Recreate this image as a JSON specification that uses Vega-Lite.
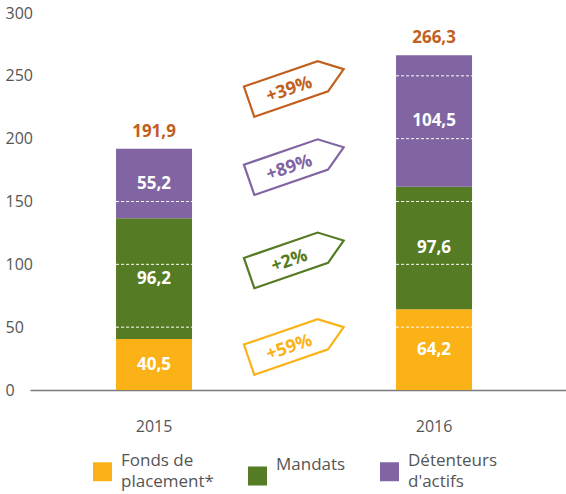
{
  "$schema": "https://vega.github.io/schema/vega-lite/v6.json",
  "width": 536,
  "height": 377,
  "autosize": {"type": "none"},
  "padding": {"left": 30, "top": 13, "right": 0, "bottom": 104},
  "config": {
    "view": {"stroke": null},
    "font": "Open Sans",
    "locale": {"number": {"decimal": ",", "thousands": " ", "grouping": [3], "currency": ["", " €"]}},
    "style": {"guide-label": {"lineHeight": 21}},
    "axisX": {
      "labelAngle": 0,
      "ticks": false,
      "grid": false,
      "domainColor": "#7a7a7a",
      "domainWidth": 1.5,
      "labelPadding": 28,
      "labelFontSize": 16,
      "labelColor": "#555555",
      "labelFont": "Open Sans"
    }
  },
  "datasets": {
    "assets": [
      {"year": "2015", "cat": "Fonds de placement*", "value": 40.5},
      {"year": "2015", "cat": "Mandats", "value": 96.2},
      {"year": "2015", "cat": "Détenteurs d'actifs", "value": 55.2},
      {"year": "2016", "cat": "Fonds de placement*", "value": 64.2},
      {"year": "2016", "cat": "Mandats", "value": 97.6},
      {"year": "2016", "cat": "Détenteurs d'actifs", "value": 104.5}
    ],
    "tags": [
      {"pct": "+39%", "cat": "Total", "pos": 242.4},
      {"pct": "+89%", "cat": "Détenteurs d'actifs", "pos": 180.2},
      {"pct": "+2%", "cat": "Mandats", "pos": 106},
      {"pct": "+59%", "cat": "Fonds de placement*", "pos": 37.1}
    ]
  },
  "layer": [
    {
      "data": {"name": "assets"},
      "transform": [
        {"calculate": "indexof(['Fonds de placement*', 'Mandats', \"Détenteurs d'actifs\"], datum.cat)", "as": "ord"},
        {"stack": "value", "groupby": ["year"], "sort": [{"field": "ord", "order": "ascending"}], "as": ["v0", "v1"]},
        {"calculate": "(datum.v0 + datum.v1) / 2", "as": "mid"},
        {"joinaggregate": [{"op": "sum", "field": "value", "as": "total"}], "groupby": ["year"]}
      ],
      "encoding": {
        "x": {
          "field": "year",
          "type": "nominal",
          "scale": {"paddingInner": 0.7286, "paddingOuter": 0.3214, "align": 0.478},
          "axis": {"title": null}
        }
      },
      "layer": [
        {
          "mark": {"type": "bar"},
          "encoding": {
            "y": {
              "field": "v0",
              "type": "quantitative",
              "scale": {"domain": [0, 300], "nice": false},
              "axis": {
                "title": null,
                "domain": false,
                "ticks": false,
                "grid": false,
                "values": [0, 50, 100, 150, 200, 250, 300],
                "labelAlign": "left",
                "labelBaseline": "middle",
                "labelPadding": 25,
                "labelFontSize": 16,
                "labelColor": "#555555",
                "labelFont": "Open Sans"
              }
            },
            "y2": {"field": "v1"},
            "color": {
              "field": "cat",
              "type": "nominal",
              "scale": {
                "domain": ["Fonds de placement*", "Mandats", "Détenteurs d'actifs"],
                "range": ["#FBB216", "#557B24", "#8065A2"]
              },
              "legend": {
                "orient": "none",
                "legendX": 63,
                "legendY": 449,
                "direction": "horizontal",
                "title": null,
                "symbolType": "square",
                "symbolSize": 361,
                "symbolStrokeWidth": 0,
                "symbolOpacity": 1,
                "labelFontSize": 17,
                "labelFont": "Open Sans",
                "labelColor": "#555555",
                "labelOffset": 9,
                "labelLimit": 0,
                "labelBaseline": "line-bottom",
                "columnPadding": 34,
                "labelExpr": "datum.label == 'Fonds de placement*' ? ['Fonds de', 'placement*'] : datum.label == 'Mandats' ? 'Mandats' : ['Détenteurs', \"d'actifs\"]"
              }
            }
          }
        },
        {
          "transform": [{"filter": "datum.ord == 0 && datum.total > 50"}],
          "mark": {"type": "rule", "color": "white", "strokeDash": [3, 2], "strokeWidth": 1},
          "encoding": {
            "x": {"field": "year", "type": "nominal", "bandPosition": 0, "axis": {"title": null}},
            "x2": {"field": "year", "bandPosition": 1},
            "y": {"datum": 50, "type": "quantitative"}
          }
        },
        {
          "transform": [{"filter": "datum.ord == 0 && datum.total > 100"}],
          "mark": {"type": "rule", "color": "white", "strokeDash": [3, 2], "strokeWidth": 1},
          "encoding": {
            "x": {"field": "year", "type": "nominal", "bandPosition": 0, "axis": {"title": null}},
            "x2": {"field": "year", "bandPosition": 1},
            "y": {"datum": 100, "type": "quantitative"}
          }
        },
        {
          "transform": [{"filter": "datum.ord == 0 && datum.total > 150"}],
          "mark": {"type": "rule", "color": "white", "strokeDash": [3, 2], "strokeWidth": 1},
          "encoding": {
            "x": {"field": "year", "type": "nominal", "bandPosition": 0, "axis": {"title": null}},
            "x2": {"field": "year", "bandPosition": 1},
            "y": {"datum": 150, "type": "quantitative"}
          }
        },
        {
          "transform": [{"filter": "datum.ord == 0 && datum.total > 200"}],
          "mark": {"type": "rule", "color": "white", "strokeDash": [3, 2], "strokeWidth": 1},
          "encoding": {
            "x": {"field": "year", "type": "nominal", "bandPosition": 0, "axis": {"title": null}},
            "x2": {"field": "year", "bandPosition": 1},
            "y": {"datum": 200, "type": "quantitative"}
          }
        },
        {
          "transform": [{"filter": "datum.ord == 0 && datum.total > 250"}],
          "mark": {"type": "rule", "color": "white", "strokeDash": [3, 2], "strokeWidth": 1},
          "encoding": {
            "x": {"field": "year", "type": "nominal", "bandPosition": 0, "axis": {"title": null}},
            "x2": {"field": "year", "bandPosition": 1},
            "y": {"datum": 250, "type": "quantitative"}
          }
        },
        {
          "mark": {"type": "text", "color": "white", "fontWeight": "bold", "fontSize": 17, "baseline": "middle", "font": "Open Sans"},
          "encoding": {
            "y": {"field": "mid", "type": "quantitative"},
            "text": {"field": "value", "type": "quantitative", "format": ".1f"}
          }
        },
        {
          "transform": [{"filter": "datum.ord == 2"}],
          "mark": {"type": "text", "color": "#C1601E", "fontWeight": "bold", "fontSize": 17, "baseline": "alphabetic", "dy": -12, "font": "Open Sans"},
          "encoding": {
            "y": {"field": "total", "type": "quantitative"},
            "text": {"field": "total", "type": "quantitative", "format": ".1f"}
          }
        }
      ]
    },
    {
      "data": {"name": "tags"},
      "encoding": {
        "x": {"datum": 0.497, "type": "quantitative", "scale": {"domain": [0, 1]}, "axis": null},
        "y": {"field": "pos", "type": "quantitative"},
        "color": {
          "field": "cat",
          "type": "nominal",
          "scale": {
            "domain": ["Total", "Détenteurs d'actifs", "Mandats", "Fonds de placement*"],
            "range": ["#C1601E", "#8065A2", "#557B24", "#FBB216"]
          },
          "legend": null
        }
      },
      "layer": [
        {
          "mark": {
            "type": "point",
            "shape": "M-1,-0.32L0.56,-0.32L1,0L0.56,0.32L-1,0.32Z",
            "size": 10000,
            "angle": 341,
            "filled": false,
            "strokeWidth": 2.2,
            "opacity": 1
          }
        },
        {
          "mark": {"type": "text", "angle": 341, "fontWeight": "bold", "fontSize": 18, "baseline": "middle", "dx": -8, "dy": 2, "font": "Open Sans"},
          "encoding": {"text": {"field": "pct"}}
        }
      ]
    }
  ],
  "resolve": {"scale": {"x": "independent", "color": "independent"}}
}
